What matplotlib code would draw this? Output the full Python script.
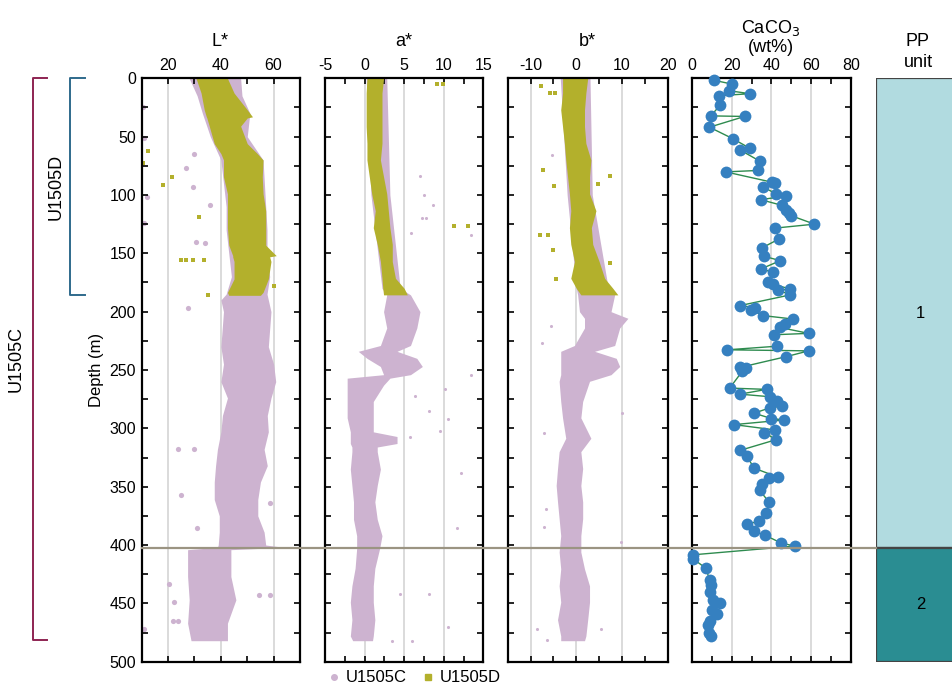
import numpy as np
import matplotlib
matplotlib.use("Agg")
import matplotlib.pyplot as plt
from matplotlib.lines import Line2D

plt.rcParams['font.family'] = ['Liberation Sans', 'DejaVu Sans']
plt.rcParams['axes.unicode_minus'] = False

# couleurs
colC = '#cdb3d0'   # U1505C
colD = '#b3b02c'   # U1505D

# ---- L* : enveloppes des nuages de points (profondeur, gauche, droite)
L_C_depth = [0, 15, 30, 50, 70, 90, 110, 130, 150, 170, 185, 190, 200, 215, 230, 245, 260, 274, 289,
             303, 318, 332, 346, 361, 375, 389, 400, 402, 404, 427, 447, 467, 482]
L_C_left = [28, 31, 33, 36, 40, 41, 42, 42, 43, 44, 42, 40, 41, 40.5, 40, 41, 40, 42.5, 40.6,
            40, 38.7, 38, 37.5, 37.5, 39.4, 39.4, 39, 38.7, 27.4, 27.4, 28, 27.4, 28.7]
L_C_right = [47.5, 48, 51, 50, 56, 56.5, 57, 57.5, 57.5, 58.5, 57.5, 58, 59, 58.5, 58, 60, 60.8, 59, 57.6,
             58, 56.4, 57.6, 55, 54, 54, 56.4, 57, 64, 43.8, 43.8, 45.7, 42.5, 42.5]
L_D_depth = [0, 12.6, 27, 33, 34, 41, 56, 64.5, 70, 84.5, 99, 113.5, 128, 143, 152, 153, 157, 172, 183.5, 186]
L_D_left = [30.6, 32.5, 33.7, 34.5, 34.7, 35.6, 37.5, 40, 41, 41, 42.5, 42.5, 42.5, 43, 44.5, 44.5, 45, 45, 42.5, 43]
L_D_right = [42.5, 45, 50, 52, 50, 47.5, 50, 53.8, 56, 55.7, 56, 57, 57, 57, 61, 58.5, 59, 58, 56, 55]
# points isolés
L_C_out_x = [10.4, 11, 12, 11, 26.8, 30, 29.3, 36, 30.6, 34, 27.4, 20.5, 21.8, 23.6, 22.4, 23.6, 29.7, 25, 31, 54.6, 58.6, 58.6, 10.8]
L_C_out_y = [25, 51, 101.5, 124, 77, 65, 93, 109, 140, 141, 197, 433, 465, 465, 449, 318, 318, 357, 385, 443, 443, 364, 472]
L_D_out_x = [12.3, 10.4, 21.4, 18, 31.8, 24.9, 26.8, 29.3, 33.7, 35, 60]
L_D_out_y = [62, 73, 84.5, 91.5, 118.5, 156, 156, 156, 156, 186, 178]

# ---- a*
a_C_depth = [0, 100, 180, 185.6, 200, 214, 229, 234, 240, 247, 254, 257, 263, 277, 291, 303, 307, 313, 316,
             320, 335, 349, 363, 378, 392, 403, 420, 435, 449, 464, 478, 482]
a_C_left = [0.2, 0.8, 2.2, 2.8, 2.4, 2.8, 2.0, -0.8, 0.3, 2.0, 2.4, -2.2, -2.2, -2.2, -2.2, -1.8, -1.8, -1.8, -1.6,
            -1.6, -1.8, -1.6, -1.4, -1.4, -1.0, -1.0, -1.2, -1.6, -1.8, -1.6, -1.8, -1.5]
a_C_right = [2.8, 3.2, 4.5, 5.8, 7.0, 6.6, 5.8, 4.1, 6.6, 7.3, 5.8, 3.2, 2.4, 1.1, 1.1, 1.1, 4.1, 4.1, 1.6,
             1.6, 2.0, 1.6, 1.3, 1.6, 2.2, 1.9, 1.3, 1.1, 1.1, 1.3, 1.1, 1.0]
a_D_depth = [0, 12.6, 27, 41.4, 55.7, 70, 84.5, 99, 113.5, 128, 142.3, 157, 171.4, 180, 185.6]
a_D_left = [0.3, 0.2, 0.2, 0.2, 0.3, 0.3, 0.6, 0.9, 1.35, 1.1, 1.6, 2.0, 2.2, 2.3, 2.4]
a_D_right = [2.4, 2.2, 2.2, 2.2, 2.2, 2.0, 2.4, 2.8, 3.0, 3.2, 3.5, 3.5, 3.9, 5.0, 5.4]
a_C_out_x = [7, 7.5, 8.7, 7.2, 7.8, 13.4, 5.9, 13.4, 10.1, 6.4, 10.6, 8.2, 9.5, 5.7, 12.2, 11.7, 4.5, 8.1, 10.6, 6.0, 3.5]
a_C_out_y = [84, 100, 109, 120, 120, 134, 133, 254.6, 266, 272, 292, 285, 302, 307, 338, 385, 442, 442, 470, 482, 482]
a_D_out_x = [9.2, 9.9, 11.3, 13.1]
a_D_out_y = [5, 5, 127, 127]

# ---- b*
b_C_depth = [0, 100, 180, 185.6, 200, 205.7, 214, 229, 234, 240, 247, 254, 259.7, 277, 291, 308.5, 320,
             334.5, 349, 363, 377.5, 392, 406, 420.5, 435, 449, 464, 478, 482]
b_C_left = [-3.5, -2, 0, 0.3, 0.7, 1.8, 1.8, -0.4, -3.4, -3.4, -3.4, -3.4, -3.75, -3.4, -3.0, -2.3, -3.75,
            -4.1, -4.4, -4.1, -3.75, -3.4, -3.75, -3.4, -3.75, -3.4, -4.1, -3.4, -3.4]
b_C_right = [3, 3.5, 7, 8.4, 7.6, 11.3, 9.5, 8.4, 4.0, 8.75, 9.5, 7.6, 2.9, 1.4, 1.0, 3.2, 1.0,
             1.4, 1.0, 1.4, 1.4, 1.0, 1.0, 1.8, 2.9, 2.9, 2.5, 2.1, 1.8]
b_D_depth = [0, 12.6, 27, 41.4, 55.7, 70, 84.5, 99, 113.5, 128, 142.3, 157, 171.4, 180, 185.6]
b_D_left = [-3, -3, -3.4, -3, -2.6, -2.3, -1.9, -1.5, -1.2, -1.5, -1.2, -0.4, -1.2, 0.0, 1.0]
b_D_right = [2.5, 2.1, 1.8, 1.8, 2.1, 3.2, 2.9, 2.9, 4.3, 3.3, 3.6, 5.0, 6.2, 8.0, 9.1]
b_C_out_x = [-5.4, -5.6, -7.4, 9.9, -7.1, -6.7, -7.1, 9.7, -8.5, -6.3, 5.4]
b_C_out_y = [65.8, 212, 227, 286.5, 303.7, 369, 384.8, 397, 472.4, 481.5, 472]
b_D_out_x = [-7.7, -5.8, -4.6, -7.2, -4.9, 7.4, 4.7, -7.9, -6.1, -5, 7.4, -4.4]
b_D_out_y = [6.3, 12.6, 12.6, 78.8, 92.6, 84, 90.7, 134, 134, 147, 158.6, 172]

# ---- CaCO3 (wt%)
caco3_depth = [1.7, 4.9, 10.6, 13.2, 14.9, 23, 32.2, 32.7, 41.9, 51.7, 60, 61.2, 71.2, 79, 80.2, 89, 89.9,
               93.3, 98.8, 100.9, 104, 108.9, 112.6, 115.2, 117.8, 125, 128.4, 137.6, 145.3, 152.6, 156.3,
               163.5, 166.1, 175, 176.4, 180.7, 181.6, 185.6, 194.8, 196.5, 198.3, 203.4, 206.3, 210.3,
               213.5, 218.6, 219.8, 229.6, 232.7, 233.6, 238.5, 247.7, 248.3, 251, 265.5, 266.6, 270.7,
               272.9, 276.4, 281, 282.4, 287, 291.6, 292.8, 296.8, 301.4, 303.7, 309.7, 318.9, 324.1,
               334.1, 341.9, 342.5, 347.9, 353.1, 363.2, 372.4, 379.6, 382.2, 388.4, 391.4, 398.3, 400.9,
               408.4, 411.8, 420, 430.4, 433.9, 440.2, 447, 449.4, 456, 458.9, 465.2, 468.6, 475.3, 478.4]
caco3_wt = [11.1, 20, 18.5, 29.2, 13.7, 14.2, 9.5, 26.5, 8.8, 20.5, 29.2, 24, 34.4, 33.1, 17, 40.2, 41.7,
            35.8, 42.3, 47.4, 34.6, 45.4, 47.6, 48.7, 50.1, 61.7, 41.8, 44, 35.3, 36.5, 44.5,
            34.6, 40.8, 38.3, 40.8, 49.6, 43.5, 49.6, 24.2, 32, 29.7, 36, 50.8, 46.7,
            44.2, 58.8, 41.3, 42.9, 17.8, 58.8, 47.6, 24.4, 27.4, 25.4, 19, 37.6, 24.2,
            39.2, 42.9, 45.4, 39.3, 31.3, 40, 46.6, 21.2, 42, 36.5, 42.4, 24.2, 27.7,
            31.3, 43.4, 38.8, 35.3, 34.1, 38.8, 37.3, 33.6, 27.7, 31.3, 36.6, 44.9, 51.8,
            0.5, 0.5, 7.1, 8.9, 9.5, 8.9, 10.6, 14.3, 10.2, 12.4, 9.3, 8.1, 8.5, 9.5]

# unités PP
pp_units = ['1', '2']
pp_top = [0, 402.5]
pp_bottom = [402.5, 500]
pp_colors = ['#b1dbe0', '#2a8d92']
boundary = 402.5

# intervalles des sites (m)
site_C_range = (0, 481)
site_D_range = (0, 185.5)

W, H = 953, 688
fig = plt.figure(figsize=(W / 100, H / 100), dpi=100)


def pos(x0, x1, y0=78.3, y1=661.7):
    return [x0 / W, 1 - y1 / H, (x1 - x0) / W, (y1 - y0) / H]


def setup(ax, xmin, xmax, major, minor, grid):
    ax.set_xlim(xmin, xmax)
    ax.set_ylim(500, 0)
    ax.set_xticks(major)
    ax.set_xticks(minor, minor=True)
    ax.set_yticks(np.arange(0, 501, 50))
    ax.set_yticks(np.arange(25, 500, 50), minor=True)
    ax.tick_params(axis='both', which='both', direction='in', top=True, bottom=True, left=True, right=True,
                   labeltop=True, labelbottom=False, labelleft=False, length=4, width=1.2, labelsize=11.5,
                   pad=4)
    for g in grid:
        ax.axvline(g, color='#d4d4d4', lw=1.2, zorder=0)
    for s in ax.spines.values():
        s.set_linewidth(1.6)


axL = fig.add_axes(pos(141.7, 300))
axA = fig.add_axes(pos(325, 483.3))
axB = fig.add_axes(pos(507.7, 667.7))
axK = fig.add_axes(pos(692, 850.7))
axP = fig.add_axes(pos(875.7, 965))

# L*
setup(axL, 10, 70, [20, 40, 60], np.arange(10, 71, 10), [20, 40, 60])
axL.tick_params(axis='y', labelleft=True, labelsize=11.5)
axL.fill_betweenx(L_C_depth, L_C_left, L_C_right, color=colC, lw=0, zorder=1)
axL.scatter(L_C_out_x, L_C_out_y, s=14, color=colC, lw=0, zorder=1)
axL.fill_betweenx(L_D_depth, L_D_left, L_D_right, color=colD, lw=0, zorder=2)
axL.scatter(L_D_out_x, L_D_out_y, s=8, marker='s', color=colD, lw=0, zorder=2)
axL.set_ylabel('Depth (m)', fontsize=12, labelpad=4)

# a*
setup(axA, -5, 15, [-5, 0, 5, 10, 15], np.arange(-5, 15.1, 2.5), [0, 5, 10])
axA.fill_betweenx(a_C_depth, a_C_left, a_C_right, color=colC, lw=0, zorder=1)
axA.scatter(a_C_out_x, a_C_out_y, s=5, color=colC, lw=0, zorder=1)
axA.fill_betweenx(a_D_depth, a_D_left, a_D_right, color=colD, lw=0, zorder=2)
axA.scatter(a_D_out_x, a_D_out_y, s=8, marker='s', color=colD, lw=0, zorder=2)

# b*
setup(axB, -15, 20, [-10, 0, 10, 20], np.arange(-15, 20.1, 5), [-10, 0, 10])
axB.fill_betweenx(b_C_depth, b_C_left, b_C_right, color=colC, lw=0, zorder=1)
axB.scatter(b_C_out_x, b_C_out_y, s=5, color=colC, lw=0, zorder=1)
axB.fill_betweenx(b_D_depth, b_D_left, b_D_right, color=colD, lw=0, zorder=2)
axB.scatter(b_D_out_x, b_D_out_y, s=8, marker='s', color=colD, lw=0, zorder=2)

# CaCO3
setup(axK, 0, 80, [0, 20, 40, 60, 80], np.arange(0, 81, 10), [20, 40, 60])
axK.plot(caco3_wt, caco3_depth, color='#2e8b4f', lw=1, zorder=2)
axK.plot(caco3_wt, caco3_depth, 'o', color='#3580c0', ms=8.5, mec='none', zorder=3, clip_on=False)

# PP unit
axP.set_xlim(0, 1)
axP.set_ylim(500, 0)
axP.set_xticks([])
axP.set_yticks([])
for s in axP.spines.values():
    s.set_visible(False)
for u, t, b, c in zip(pp_units, pp_top, pp_bottom, pp_colors):
    axP.add_patch(plt.Rectangle((0, t), 1, b - t, facecolor=c, edgecolor='#444444', lw=1.6))
    axP.text(0.5, (t + b) / 2, u, ha='center', va='center', fontsize=12)

# titres
fig.text(220 / W, 1 - 42 / H, 'L*', ha='center', va='center', fontsize=13)
fig.text(404 / W, 1 - 42 / H, 'a*', ha='center', va='center', fontsize=13)
fig.text(587 / W, 1 - 42 / H, 'b*', ha='center', va='center', fontsize=13)
fig.text(771 / W, 1 - 37 / H, 'CaCO$_3$\n(wt%)', ha='center', va='center', fontsize=13, linespacing=1.1)
fig.text(918 / W, 1 - 52 / H, 'PP\nunit', ha='center', va='center', fontsize=13, linespacing=1.3)

# ligne de limite d'unité
to_fig = fig.transFigure.inverted()
yb = to_fig.transform(axL.transData.transform((10, boundary)))[1]
fig.add_artist(Line2D([141.7 / W, 875.7 / W], [yb, yb], color='#9b9482', lw=1.6, zorder=5))

# crochets des sites
def bracket(x, x2, rng, col, label, lx):
    y0 = to_fig.transform(axL.transData.transform((10, rng[0])))[1]
    y1 = to_fig.transform(axL.transData.transform((10, rng[1])))[1]
    fig.add_artist(Line2D([x2 / W, x / W, x / W, x2 / W], [y0, y0, y1, y1], color=col, lw=1.4))
    fig.text(lx / W, (y0 + y1) / 2, label, rotation=90, ha='center', va='center', fontsize=13)


bracket(32.5, 47, site_C_range, '#8e2452', 'U1505C', 16)
bracket(70.5, 85, site_D_range, '#2f6a8c', 'U1505D', 56)

# légende
handles = [Line2D([], [], marker='o', ls='none', color=colC, ms=4, label='U1505C'),
           Line2D([], [], marker='s', ls='none', color=colD, ms=4, label='U1505D')]
fig.legend(handles=handles, loc='center', bbox_to_anchor=(413 / W, 1 - 678 / H), ncol=2, frameon=False,
           fontsize=12, handletextpad=0.2, columnspacing=0.8, handlelength=1)

plt.savefig('out.png', dpi=100)
